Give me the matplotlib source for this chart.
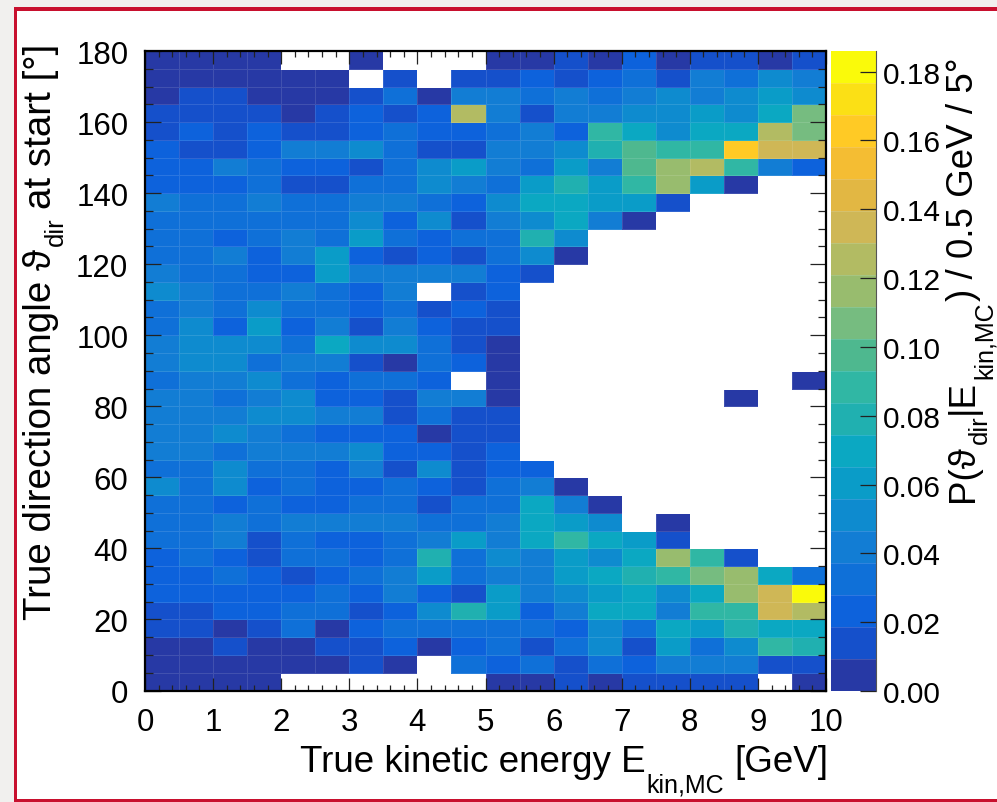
#!/usr/bin/python
# direction angle vs kinetic energy, 2D histogram (per-mille values)
import numpy as np
import matplotlib
matplotlib.use('Agg')
import matplotlib.pyplot as plt
from matplotlib.colors import ListedColormap, BoundaryNorm
from matplotlib.patches import Rectangle
from matplotlib.ticker import MultipleLocator

plt.rcParams['font.family'] = ['Liberation Sans', 'DejaVu Sans']

W = np.nan  # empty bin

x_edges = np.arange(0, 10.5, 0.5)
y_edges = np.arange(0, 185, 5)

# rows from 175-180 deg down to 0-5 deg, values in 1/1000
rows_top = [
    [5, 5, 5, 5, W, W, 5, W, W, W, 5, 5, 14, 5, 23, 5, 14, 14, 5, 14],
    [5, 5, 5, 5, 5, 5, W, 14, W, 14, 14, 23, 14, 23, 33, 14, 42, 33, 51, 42],
    [5, 14, 14, 5, 5, 5, 14, 33, 5, 42, 42, 33, 42, 33, 42, 51, 42, 51, 60, 51],
    [14, 14, 14, 14, 5, 14, 23, 14, 23, 126, 42, 14, 42, 42, 51, 51, 60, 51, 70, 107],
    [14, 23, 14, 23, 14, 14, 23, 33, 23, 23, 33, 42, 23, 88, 70, 51, 70, 70, 126, 107],
    [23, 14, 14, 23, 42, 42, 51, 33, 14, 14, 42, 42, 51, 79, 98, 88, 88, 163, 135, 135],
    [23, 23, 42, 33, 23, 23, 14, 33, 51, 60, 42, 33, 60, 42, 98, 116, 126, 88, 42, 23],
    [23, 23, 23, 33, 14, 14, 33, 33, 51, 42, 33, 60, 79, 60, 88, 116, 60, 5, W, W],
    [42, 33, 33, 42, 33, 33, 42, 42, 33, 23, 51, 70, 70, 60, 60, 14, W, W, W, W],
    [33, 33, 33, 33, 33, 33, 51, 23, 51, 14, 42, 51, 70, 42, 5, W, W, W, W, W],
    [33, 33, 23, 33, 42, 33, 60, 33, 23, 33, 33, 79, 51, W, W, W, W, W, W, W],
    [33, 33, 42, 23, 42, 60, 23, 14, 23, 14, 33, 51, 5, W, W, W, W, W, W, W],
]
rows_mid = [
    [42, 33, 33, 23, 23, 60, 42, 42, 42, 42, 23, 14, W, W, W, W, W, W, W, W],
    [51, 42, 33, 33, 42, 33, 23, 42, W, 14, 23, W, W, W, W, W, W, W, W, W],
    [33, 42, 33, 51, 33, 33, 23, 33, 14, 23, 14, W, W, W, W, W, W, W, W, W],
    [33, 51, 23, 60, 23, 42, 14, 42, 23, 14, 14, W, W, W, W, W, W, W, W, W],
    [42, 51, 51, 51, 33, 70, 51, 51, 33, 14, 5, W, W, W, W, W, W, W, W, W],
    [42, 51, 51, 33, 42, 42, 14, 5, 33, 23, 5, W, W, W, W, W, W, W, W, W],
    [33, 42, 42, 51, 33, 23, 33, 33, 23, W, 5, W, W, W, W, W, W, W, W, 5],
    [42, 42, 33, 42, 51, 23, 23, 14, 42, 42, 5, W, W, W, W, W, W, 5, W, W],
    [42, 42, 42, 51, 51, 42, 42, 14, 33, 14, 14, W, W, W, W, W, W, W, W, W],
    [42, 42, 51, 42, 33, 23, 23, 23, 5, 14, 14, W, W, W, W, W, W, W, W, W],
    [42, 42, 33, 42, 42, 42, 51, 23, 23, 14, 23, W, W, W, W, W, W, W, W, W],
    [33, 33, 51, 33, 33, 23, 42, 14, 51, 14, 23, 23, W, W, W, W, W, W, W, W],
]
rows_low = [
    [51, 33, 51, 23, 33, 23, 23, 33, 23, 14, 33, 42, 5, W, W, W, W, W, W, W],
    [33, 33, 23, 33, 23, 23, 33, 33, 14, 33, 33, 70, 42, 5, W, W, W, W, W, W],
    [33, 33, 42, 33, 42, 42, 42, 42, 33, 33, 42, 70, 60, 51, W, 5, W, W, W, W],
    [33, 33, 42, 14, 33, 23, 23, 33, 42, 60, 42, 70, 88, 70, 60, 14, W, W, W, W],
    [23, 33, 23, 14, 33, 33, 23, 33, 79, 33, 51, 42, 60, 51, 70, 116, 88, 14, W, W],
    [23, 23, 33, 23, 14, 23, 33, 42, 60, 33, 42, 42, 60, 70, 79, 88, 107, 116, 70, 33],
    [23, 23, 23, 23, 23, 33, 23, 42, 23, 14, 60, 42, 51, 60, 70, 51, 70, 116, 135, 181],
    [14, 14, 23, 23, 33, 33, 14, 23, 51, 79, 60, 23, 42, 70, 70, 42, 88, 88, 135, 126],
    [14, 14, 5, 14, 33, 5, 23, 33, 33, 33, 33, 33, 23, 51, 33, 70, 60, 79, 70, 70],
    [5, 5, 14, 5, 5, 14, 14, 23, 5, 23, 33, 14, 33, 51, 14, 60, 33, 51, 88, 79],
    [5, 5, 5, 5, 5, 5, 14, 5, W, 33, 23, 33, 14, 33, 23, 42, 42, 42, 14, 14],
    [5, 5, 5, 5, W, W, W, W, W, W, 5, 5, 14, 5, 14, 14, 14, 14, W, 5],
]

level_colors = ['#2739a5', '#1550cb', '#0d62dc', '#0f70d8', '#127dd4',
                '#0e8bcf', '#0a9cc8', '#0ba8c2', '#20b0b0', '#30b7a4',
                '#4eb88f', '#76bc80', '#98bc6e', '#b2bb63', '#cfb756',
                '#e2b743', '#f4bd33', '#ffca25', '#fbe015', '#fafa0a']
z_max = 0.186
cbar_ticks = [0.00, 0.02, 0.04, 0.06, 0.08, 0.10, 0.12, 0.14, 0.16, 0.18]

# stack rows, flip so row 0 is the lowest angle
prob = np.array(rows_top + rows_mid + rows_low, dtype=float)[::-1] / 1000.0

PW, PH = 997.0, 803.0


def box(l, t, r, b):  # pixel box to figure fractions
    return [l / PW, 1 - b / PH, (r - l) / PW, (b - t) / PH]


fig = plt.figure(figsize=(9.97, 8.03), dpi=100, facecolor='white')

# page frame around the figure
fig.add_artist(Rectangle((0, 0), 13.5 / PW, 1, color='#f1f0ee', lw=0))
fig.add_artist(Rectangle((0, 1 - 8 / PH), 1, 8 / PH, color='#f1f0ee', lw=0))
fig.add_artist(Rectangle((13.5 / PW, 0), 3.5 / PW, 1 - 8 / PH, color='#c8102e', lw=0))
fig.add_artist(Rectangle((13.5 / PW, 1 - 11.5 / PH), 1, 3.5 / PH, color='#c8102e', lw=0))
fig.add_artist(Rectangle((13.5 / PW, 0), 1, 3 / PH, color='#c8102e', lw=0))

ax = fig.add_axes(box(145, 52, 826, 691.5))
cmap = ListedColormap(level_colors)
cmap.set_bad('white')
norm = BoundaryNorm(np.linspace(0, z_max, len(level_colors) + 1), cmap.N)
ax.pcolormesh(x_edges, y_edges, np.ma.masked_invalid(prob), cmap=cmap, norm=norm,
              edgecolors=(1, 1, 1, 0.12), linewidth=0.5)

ax.set_xlim(0, 10)
ax.set_ylim(0, 180)
ax.xaxis.set_major_locator(MultipleLocator(1))
ax.xaxis.set_minor_locator(MultipleLocator(0.2))
ax.yaxis.set_major_locator(MultipleLocator(20))
ax.yaxis.set_minor_locator(MultipleLocator(5))
ax.tick_params(which='both', direction='in', top=True, right=True, width=0.9, color='#222222')
ax.tick_params(axis='x', which='major', length=9.5, labelsize=22.5, pad=12)
ax.tick_params(axis='x', which='minor', length=4.5)
ax.tick_params(axis='y', which='major', length=11.5, labelsize=22.5, pad=12)
ax.tick_params(axis='y', which='minor', length=6)
for s in ax.spines.values():
    s.set_linewidth(1.6)

cax = fig.add_axes(box(831, 52, 876, 692))
cb_edges = np.linspace(0, z_max, len(level_colors) + 1)
for i in range(len(level_colors)):
    cax.axhspan(cb_edges[i], cb_edges[i + 1], color=level_colors[i], lw=0)
    cax.axhline(cb_edges[i], color=(1, 1, 1, 0.2), lw=0.5)
cax.set_xlim(0, 1)
cax.set_ylim(0, z_max)
cax.set_xticks([])
cax.set_yticks(cbar_ticks)
cax.set_yticklabels(['%.2f' % t for t in cbar_ticks])
cax.yaxis.tick_right()
cax.tick_params(axis='y', direction='in', length=11.5, width=0.9, labelsize=21.5, pad=5, color='#222222')
for name, s in cax.spines.items():
    s.set_visible(name == 'right')
    s.set_color('#555555')
    s.set_linewidth(0.8)

fig.canvas.draw()
renderer = fig.canvas.get_renderer()


def chain(pieces, x, y, vertical=False):
    # writes text pieces one after the other, each (string, size, offset below baseline, gap after)
    for text, size, drop, gap in pieces:
        if vertical:
            t = fig.text((x + drop) / PW, 1 - y / PH, text, fontsize=size, rotation=90,
                         ha='left', va='baseline', rotation_mode='anchor')
            y -= t.get_window_extent(renderer).height + gap
        else:
            t = fig.text(x / PW, 1 - (y + drop) / PH, text, fontsize=size,
                         ha='left', va='baseline')
            x += t.get_window_extent(renderer).width + gap


# x title
chain([('True kinetic energy E', 26.5, 0, 1),
       ('kin,MC', 18, 21, 10),
       ('[GeV]', 26.5, 0, 0)], 300, 772)
# y title
chain([('True direction angle ϑ', 27.7, 0, 3),
       ('dir', 18.5, 12, 8),
       ('at start [°]', 27.7, 0, 0)], 51, 620, vertical=True)
# colorbar title
chain([('P(ϑ', 26.5, 0, 1),
       ('dir', 18.5, 14, 1),
       ('|E', 26.5, 0, 1),
       ('kin,MC', 18, 19, 1),
       (') / 0.5 GeV / 5°', 26.5, 0, 0)], 973, 502, vertical=True)

fig.savefig('out.png', dpi=100)
